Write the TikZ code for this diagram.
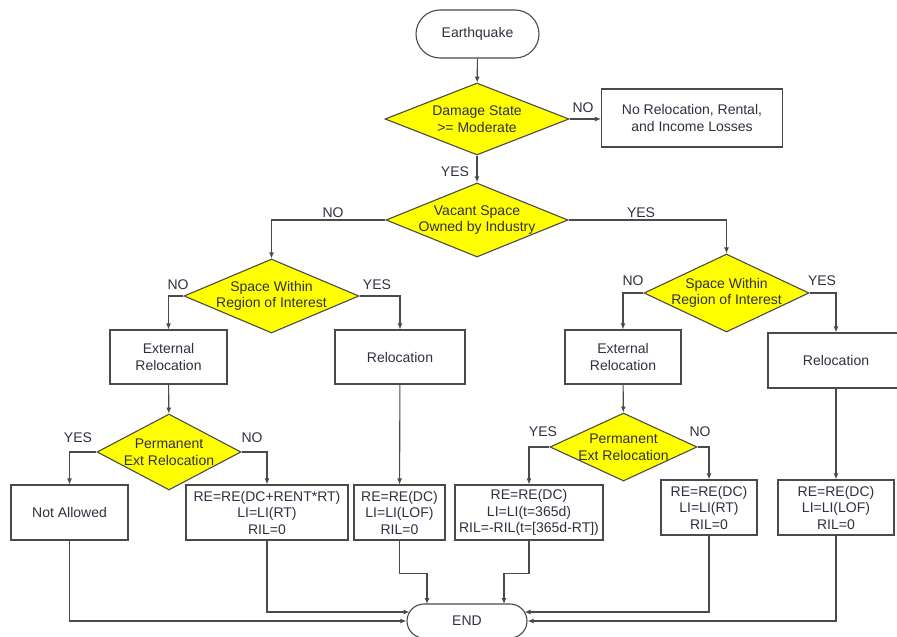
\documentclass[tikz,border=0pt]{standalone}
\usepackage{fontspec}
\setmainfont{Liberation Sans}
\usetikzlibrary{shapes.geometric,arrows.meta}
\definecolor{fcyellow}{HTML}{FFFF00}
\definecolor{fcline}{HTML}{4A4A4A}
\definecolor{fctext}{HTML}{303040}

\begin{document}
\begin{tikzpicture}[x=1pt, y=-1pt,
    every node/.style={font=\fontsize{14}{16.5}\selectfont, text=fctext},
    arr/.style={-{Latex[length=6pt,width=5pt]}, draw=fcline, line width=1.1pt},
    terminal/.style={rectangle, draw=fcline, line width=1.1pt, fill=white, align=center},
    decision/.style={diamond, draw=fcline, line width=1.1pt, fill=fcyellow, aspect=2.5, inner sep=-4pt, align=center},
    box/.style={rectangle, draw=fcline, line width=1.1pt, fill=white, align=center, inner sep=2pt}]
    \useasboundingbox (0,0) rectangle (897,637);

    % Start and first checks
    \node[terminal, minimum width=123pt, minimum height=48pt, rounded corners=24pt] (eq) at (477.5,34) {Earthquake};
    \node[decision, minimum width=184pt, minimum height=72pt] (dmg) at (477,119) {Damage State\\>= Moderate};
    \node[box, minimum width=181pt, minimum height=58pt] (nores) at (692,118) {No Relocation, Rental,\\and Income Losses};
    \node[decision, minimum width=182pt, minimum height=74pt] (vac) at (477,220) {Vacant Space\\Owned by Industry};

    % Left branch
    \node[decision, minimum width=175pt, minimum height=74pt] (swL) at (271.5,296) {Space Within\\Region of Interest};
    \node[box, minimum width=117pt, minimum height=54pt] (extL) at (168.5,357) {External\\Relocation};
    \node[box, minimum width=130pt, minimum height=54pt] (relL) at (400,357) {Relocation};
    \node[decision, minimum width=144pt, minimum height=76pt] (permL) at (169,452) {Permanent\\Ext Relocation};
    \node[box, minimum width=117pt, minimum height=55pt] (na) at (69.5,512.5) {Not Allowed};
    \node[box, minimum width=162pt, minimum height=55pt] (reL) at (267,512.5) {RE=RE(DC+RENT*RT)\\LI=LI(RT)\\RIL=0};
    \node[box, minimum width=91pt, minimum height=55pt] (reM) at (399.5,512.5) {RE=RE(DC)\\LI=LI(LOF)\\RIL=0};

    % Right branch
    \node[decision, minimum width=165pt, minimum height=78pt] (swR) at (726.5,293) {Space Within\\Region of Interest};
    \node[box, minimum width=116pt, minimum height=54pt] (extR) at (623,357) {External\\Relocation};
    \node[box, minimum width=136pt, minimum height=55pt] (relR) at (836,360.5) {Relocation};
    \node[decision, minimum width=147pt, minimum height=68pt] (permR) at (623.5,447) {Permanent\\Ext Relocation};
    \node[box, minimum width=148pt, minimum height=55pt] (reYes) at (529,512.5) {RE=RE(DC)\\LI=LI(t=365d)\\RIL=-RIL(t=[365d-RT])};
    \node[box, minimum width=96pt, minimum height=55pt] (reNo) at (709,507.5) {RE=RE(DC)\\LI=LI(RT)\\RIL=0};
    \node[box, minimum width=116pt, minimum height=55pt] (reR) at (836,507.5) {RE=RE(DC)\\LI=LI(LOF)\\RIL=0};

    % End
    \node[terminal, minimum width=120pt, minimum height=34pt, rounded corners=17pt] (fin) at (467,621) {END};
    \coordinate (finw) at (409.5,612);
    \coordinate (fine) at (524.5,612);
    \coordinate (finnw) at (427,604);
    \coordinate (finne) at (504,604);

    % Yes / No labels
    \node at (583,108) {NO};
    \node at (455,172) {YES};
    \node at (333,213) {NO};
    \node at (641,213) {YES};
    \node at (178,285) {NO};
    \node at (377,285) {YES};
    \node at (633,281) {NO};
    \node at (822,281) {YES};
    \node at (78,438) {YES};
    \node at (252,438) {NO};
    \node at (543,432) {YES};
    \node at (700,432) {NO};

    % Connectors
    \draw[arr] (eq) -- (dmg);
    \draw[arr] (dmg.east) -- (dmg.east -| nores.west);
    \draw[arr] (dmg) -- (vac);
    \draw[arr] (vac.west) -| (swL.north);
    \draw[arr] (vac.east) -| (swR.north);
    \draw[arr] (swL.west) -| (extL.north);
    \draw[arr] (swL.east) -| (relL.north);
    \draw[arr] (swR.west) -| (extR.north);
    \draw[arr] (swR.east) -| (relR.north);
    \draw[arr] (extL) -- (permL);
    \draw[arr] (extR) -- (permR);
    \draw[arr] (relL) -- (reM);
    \draw[arr] (relR) -- (reR);
    \draw[arr] (permL.west) -| (na.north);
    \draw[arr] (permL.east) -| (reL.north);
    \draw[arr] (permR.west) -| (reYes.north);
    \draw[arr] (permR.east) -| (reNo.north);

    % Into END
    \draw[arr] (na.south) |- (fin.west);
    \draw[arr] (reL.south) |- (finw);
    \draw[arr] (reM.south) -- ++(0,33) -| (finnw);
    \draw[arr] (reYes.south) -- ++(0,33) -| (finne);
    \draw[arr] (reNo.south) |- (fine);
    \draw[arr] (reR.south) |- (fin.east);
\end{tikzpicture}
\end{document}
